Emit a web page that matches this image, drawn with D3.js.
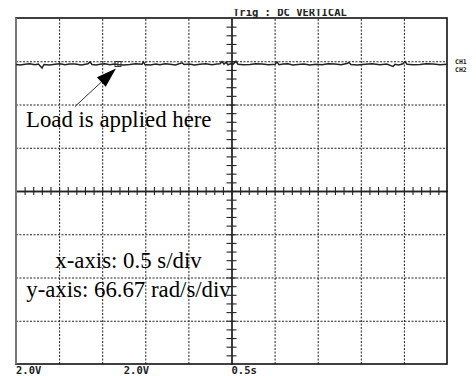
<!DOCTYPE html>
<html>
<head>
<meta charset="utf-8">
<script src="https://cdn.jsdelivr.net/npm/d3@7"></script>
<style>
  html, body { margin: 0; padding: 0; background: #fff; }
  svg { display: block; }
</style>
</head>
<body>
<svg id="scope" width="476" height="376"></svg>
<script>
(function () {

    // time (s) and speed (rad/s)
    const traceTime = [0.000, 0.050, 0.104, 0.160, 0.220, 0.260, 0.302, 0.325, 0.390, 0.452, 0.510, 0.568,
        0.620, 0.684, 0.760, 0.835, 0.858, 0.882, 0.930, 0.974, 1.030, 1.090, 1.140, 1.183, 1.250, 1.320,
        1.390, 1.462, 1.479, 1.496, 1.560, 1.620, 1.670, 1.730, 1.787, 1.850, 1.926, 1.950, 2.010, 2.070,
        2.135, 2.200, 2.274, 2.330, 2.367, 2.390, 2.413, 2.436, 2.459, 2.490, 2.517, 2.552, 2.575, 2.640,
        2.715, 2.780, 2.854, 2.930, 3.005, 3.028, 3.051, 3.100, 3.155, 3.210, 3.271, 3.340, 3.410, 3.480,
        3.550, 3.620, 3.700, 3.770, 3.840, 3.863, 3.886, 3.960, 4.049, 4.130, 4.223, 4.300, 4.374, 4.397,
        4.440, 4.490, 4.513, 4.536, 4.610, 4.687, 4.760, 4.838, 4.920, 5.000];
    const traceSpeed = [195.0, 194.2, 195.5, 196.2, 194.5, 195.6, 189.5, 195.0, 194.3, 195.5, 196.3, 194.8,
        195.7, 195.6, 194.4, 196.0, 199.0, 195.0, 194.2, 195.5, 196.1, 194.5, 195.8, 195.0, 194.3, 195.0,
        196.0, 195.5, 199.0, 195.0, 194.2, 195.9, 194.7, 196.1, 195.4, 194.3, 197.5, 195.0, 195.9, 194.4,
        195.3, 196.2, 194.8, 195.7, 196.0, 199.5, 195.5, 198.5, 194.5, 196.0, 195.2, 200.0, 195.5, 194.5,
        195.0, 196.3, 195.6, 194.6, 195.2, 199.0, 194.8, 195.7, 196.2, 194.4, 195.0, 195.8, 194.3, 195.4,
        194.6, 196.0, 195.6, 194.7, 196.5, 198.0, 195.0, 194.3, 195.5, 196.2, 194.8, 195.7, 192.0, 195.2,
        194.4, 196.0, 199.5, 195.5, 194.6, 195.0, 196.1, 195.6, 194.5, 195.2];

    const loadTime = 1.183;
    const loadSpeed = 195;

    const bottomLabels = ['2.0V', '2.0V', '0.5s'];
    const bottomLabelX = [0, 1.25, 2.5];
    const topLabel = 'Trig : DC VERTICAL';
    const channelLabels = ['CH1', 'CH2'];
    const notes = ['x-axis: 0.5 s/div', 'y-axis: 66.67 rad/s/div'];

    const perDiv = 66.67;
    const svg = d3.select('#scope');

    const x = d3.scaleLinear().domain([0, 5]).range([16, 447]);
    const y = d3.scaleLinear().domain([-4 * perDiv, 4 * perDiv]).range([364, 18]);

    const gridX = d3.range(1, 10).filter(d => d !== 5).map(d => d * 0.5);
    const gridY = d3.range(-3, 4).filter(d => d !== 0).map(d => d * perDiv);

    // dotted graticule
    const grid = svg.append('g').attr('class', 'grid');
    grid.append('g')
        .attr('transform', `translate(0, ${y(-4 * perDiv)})`)
        .call(d3.axisBottom(x).tickValues(gridX).tickSize(-(y(-4 * perDiv) - y(4 * perDiv))).tickFormat(''));
    grid.append('g')
        .attr('transform', `translate(${x(0)}, 0)`)
        .call(d3.axisLeft(y).tickValues(gridY).tickSize(-(x(5) - x(0))).tickFormat(''));
    grid.selectAll('.domain').remove();
    grid.selectAll('.tick line')
        .attr('stroke', '#222')
        .attr('stroke-width', 1)
        .attr('stroke-dasharray', '2,1.5');

    // centre axes with minor ticks
    const minorX = d3.range(0.1, 5, 0.1);
    const minorY = d3.range(-3.8, 4, 0.2).map(d => d * perDiv);
    const centre = svg.append('g').attr('class', 'centre');
    [d3.axisBottom, d3.axisTop].forEach(fn => {
        centre.append('g')
            .attr('transform', `translate(0, ${y(0)})`)
            .call(fn(x).tickValues(minorX).tickSize(4).tickSizeOuter(0).tickFormat(''));
    });
    [d3.axisLeft, d3.axisRight].forEach(fn => {
        centre.append('g')
            .attr('transform', `translate(${x(2.5)}, 0)`)
            .call(fn(y).tickValues(minorY).tickSize(5).tickSizeOuter(0).tickFormat(''));
    });
    centre.selectAll('.domain').attr('stroke', '#222').attr('stroke-width', 1.3);
    centre.selectAll('.tick line').attr('stroke', '#222').attr('stroke-width', 1.1);

    // frame
    svg.append('rect')
        .attr('x', x(0))
        .attr('y', y(4 * perDiv))
        .attr('width', x(5) - x(0))
        .attr('height', y(-4 * perDiv) - y(4 * perDiv))
        .attr('fill', 'none')
        .attr('stroke', '#111')
        .attr('stroke-width', 1.6);
    svg.append('line')
        .attr('x1', x(0)).attr('x2', x(0))
        .attr('y1', y(4 * perDiv)).attr('y2', y(-4 * perDiv))
        .attr('stroke', '#777').attr('stroke-width', 2);

    // trace
    const traceLine = d3.line()
        .x((d, i) => x(traceTime[i]))
        .y(d => y(d));
    svg.append('path')
        .datum(traceSpeed)
        .attr('d', traceLine)
        .attr('fill', 'none')
        .attr('stroke', '#222')
        .attr('stroke-width', 1.5);

    // trigger marker on trace
    const mx = x(loadTime), my = y(loadSpeed);
    svg.append('rect')
        .attr('x', mx - 3).attr('y', my - 3)
        .attr('width', 6).attr('height', 5)
        .attr('fill', 'none').attr('stroke', '#333').attr('stroke-width', 1);
    svg.append('line')
        .attr('x1', mx).attr('x2', mx).attr('y1', my - 3).attr('y2', my + 2)
        .attr('stroke', '#333').attr('stroke-width', 1);

    // arrow
    const tipX = mx - 2, tipY = my + 4;
    const tailX = tipX - 41, tailY = tipY + 38;
    const ang = Math.atan2(tipY - tailY, tipX - tailX);
    const headLen = 20, headHalf = 6.5;
    const bx = tipX - headLen * Math.cos(ang), by = tipY - headLen * Math.sin(ang);
    svg.append('line')
        .attr('x1', tailX).attr('y1', tailY).attr('x2', bx).attr('y2', by)
        .attr('stroke', '#333').attr('stroke-width', 1);
    svg.append('path')
        .attr('d', d3.line()([
            [tipX, tipY],
            [bx + headHalf * Math.sin(ang), by - headHalf * Math.cos(ang)],
            [bx - headHalf * Math.sin(ang), by + headHalf * Math.cos(ang)]
        ]) + 'Z')
        .attr('fill', '#000');

    // annotations
    const serif = '"Liberation Serif", "Times New Roman", serif';
    svg.append('text')
        .attr('x', 26).attr('y', 127)
        .attr('font-family', serif).attr('font-size', 22.8)
        .attr('fill', '#000')
        .text('Load is applied here');
    svg.selectAll('text.note')
        .data(notes)
        .join('text')
        .attr('class', 'note')
        .attr('x', 128.5)
        .attr('y', (d, i) => 268 + i * 29)
        .attr('text-anchor', 'middle')
        .attr('font-family', serif).attr('font-size', 22.8)
        .attr('fill', '#000')
        .text(d => d);

    // scope readouts
    const mono = '"DejaVu Sans Mono", "Liberation Mono", monospace';
    svg.append('clipPath').attr('id', 'topcut')
        .append('rect').attr('x', 0).attr('y', 9).attr('width', 476).attr('height', 10);
    svg.append('text')
        .attr('x', 233).attr('y', 15.5)
        .attr('clip-path', 'url(#topcut)')
        .attr('font-family', mono).attr('font-size', 10.5).attr('font-weight', 'bold')
        .attr('fill', '#222')
        .text(topLabel);
    svg.selectAll('text.ch')
        .data(channelLabels)
        .join('text')
        .attr('class', 'ch')
        .attr('x', 455)
        .attr('y', (d, i) => 64 + i * 7.5)
        .attr('font-family', mono).attr('font-size', 6.5).attr('font-weight', 'bold')
        .attr('fill', '#222')
        .text(d => d);
    svg.selectAll('text.bl')
        .data(bottomLabels)
        .join('text')
        .attr('class', 'bl')
        .attr('x', (d, i) => x(bottomLabelX[i]))
        .attr('y', 374)
        .attr('font-family', mono).attr('font-size', 10.5).attr('font-weight', 'bold')
        .attr('fill', '#222')
        .text(d => d);

})();
</script>
</body>
</html>
